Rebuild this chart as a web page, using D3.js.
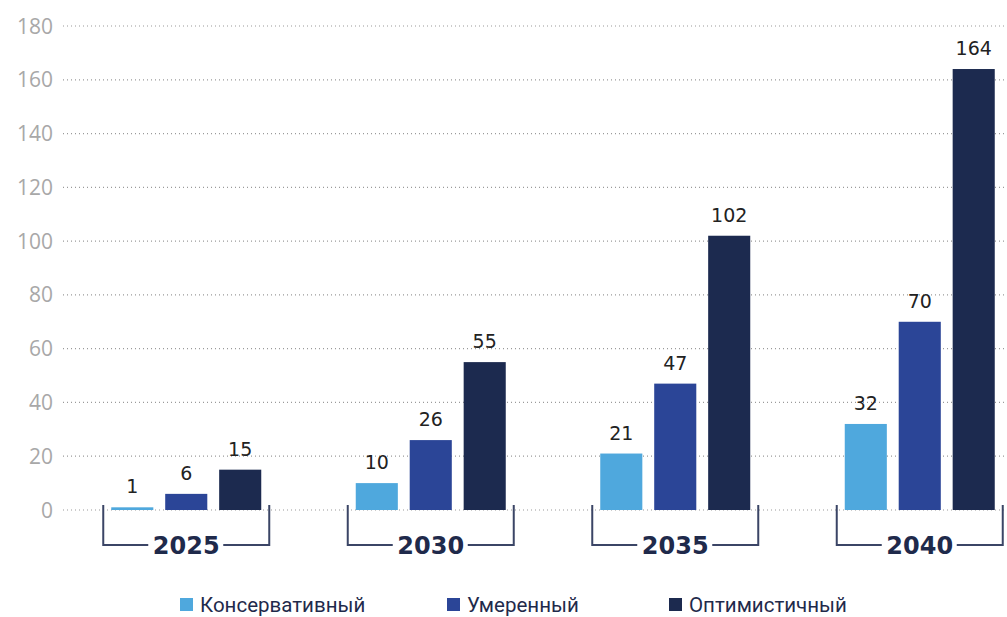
<!DOCTYPE html>
<html>
<head>
<meta charset="utf-8">
<script src="https://cdn.jsdelivr.net/npm/d3@7"></script>
<style>
  body { margin: 0; background: #fff; }
  .tick-label { font-family: "Open Sans", sans-serif; font-size: 21px; fill: #a8a8a8; }
  .val-label { font-family: "DejaVu Sans", sans-serif; font-size: 19px; fill: #222; }
  .year-label { font-family: "DejaVu Sans", sans-serif; font-size: 24px; font-weight: 700; fill: #1f2a4b; }
  .legend-label { font-family: "Roboto", sans-serif; font-size: 20.5px; fill: #1f2a4b; }
</style>
</head>
<body>
<svg id="chart" width="1007" height="617"></svg>
<script>
var years = ["2025", "2030", "2035", "2040"];
var series = ["Консервативный", "Умеренный", "Оптимистичный"];
var conservative = [1, 10, 21, 32];
var moderate = [6, 26, 47, 70];
var optimistic = [15, 55, 102, 164];
var yTicks = [0, 20, 40, 60, 80, 100, 120, 140, 160, 180];
var colors = ["#4fa8dd", "#2b4597", "#1c2a4f"];

var values = [conservative, moderate, optimistic];
var data = years.map(function(y, i) {
    return { year: y, vals: series.map(function(s, j) { return { key: s, idx: j, value: values[j][i] }; }) };
});

var svg = d3.select("#chart");

var y = d3.scaleLinear().domain([0, 180]).range([510, 26]);
var x0 = d3.scaleBand().domain(years).range([64, 1042]);
var x1 = d3.scaleBand().domain(series).range([-75, 75]).paddingInner(0.22);

// grid lines
svg.append("g").selectAll("line")
    .data(yTicks)
    .enter().append("line")
    .attr("x1", 63).attr("x2", 1007)
    .attr("y1", function(d) { return y(d); })
    .attr("y2", function(d) { return y(d); })
    .attr("stroke", "#9a9a9a")
    .attr("stroke-width", 1.2)
    .attr("stroke-dasharray", "1,3");

svg.append("g").selectAll("text")
    .data(yTicks)
    .enter().append("text")
    .attr("class", "tick-label")
    .attr("x", 53)
    .attr("y", function(d) { return y(d); })
    .attr("dy", "0.36em")
    .attr("text-anchor", "end")
    .text(function(d) { return d; });

var groups = svg.append("g").selectAll("g")
    .data(data)
    .enter().append("g")
    .attr("transform", function(d) { return "translate(" + (x0(d.year) + x0.bandwidth() / 2) + ",0)"; });

groups.selectAll("rect")
    .data(function(d) { return d.vals; })
    .enter().append("rect")
    .attr("x", function(d) { return x1(d.key); })
    .attr("width", x1.bandwidth())
    .attr("y", function(d) { return y(d.value); })
    .attr("height", function(d) { return y(0) - y(d.value); })
    .attr("fill", function(d) { return colors[d.idx]; });

groups.selectAll("text.val-label")
    .data(function(d) { return d.vals; })
    .enter().append("text")
    .attr("class", "val-label")
    .attr("x", function(d) { return x1(d.key) + x1.bandwidth() / 2; })
    .attr("y", function(d) { return y(d.value) - 14; })
    .attr("text-anchor", "middle")
    .text(function(d) { return d.value; });

// brackets under each year
var bl = x1.range()[0] - 8, br = x1.range()[1] + 8;
groups.append("path")
    .attr("d", "M" + bl + ",505V545H-38M37,545H" + br + "V505")
    .attr("fill", "none")
    .attr("stroke", "#3b4566")
    .attr("stroke-width", 2);

groups.append("text")
    .attr("class", "year-label")
    .attr("x", 0)
    .attr("y", 545)
    .attr("dy", "0.36em")
    .attr("text-anchor", "middle")
    .text(function(d) { return d.year; });

// legend
var legendX = [180, 447, 669];
var legend = svg.append("g").selectAll("g")
    .data(series)
    .enter().append("g")
    .attr("transform", function(d, i) { return "translate(" + legendX[i] + ",598)"; });

legend.append("rect")
    .attr("width", 13).attr("height", 13)
    .attr("fill", function(d, i) { return colors[i]; });

legend.append("text")
    .attr("class", "legend-label")
    .attr("x", 20)
    .attr("y", 7)
    .attr("dy", "0.36em")
    .text(function(d) { return d; });
</script>
</body>
</html>
